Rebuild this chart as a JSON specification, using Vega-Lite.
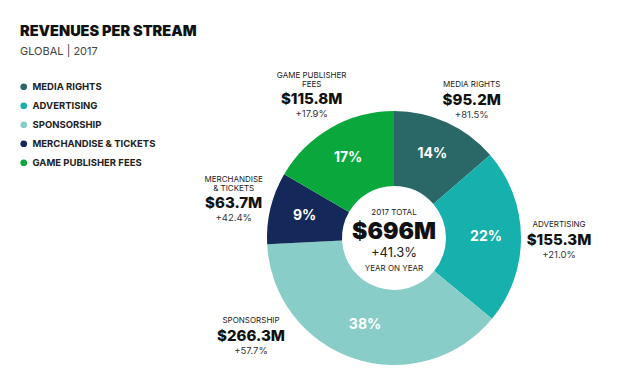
{
  "$schema": "https://vega.github.io/schema/vega-lite/v6.json",
  "width": 472,
  "height": 292,
  "autosize": {"type": "none"},
  "padding": {"left": 158, "top": 92, "right": 0, "bottom": 0},
  "background": "white",
  "title": {
    "text": "REVENUES PER STREAM",
    "subtitle": "GLOBAL | 2017",
    "anchor": "start",
    "frame": "group",
    "dx": -138,
    "dy": 50,
    "offset": 2,
    "font": "Inter",
    "fontSize": 14.5,
    "fontWeight": 900,
    "color": "#111",
    "subtitleFont": "Inter",
    "subtitleFontSize": 11,
    "subtitleColor": "#444",
    "subtitlePadding": 6
  },
  "datasets": {
    "streams": [
      {"idx": 1, "category": "MEDIA RIGHTS", "value": 95.2, "pct": "14%", "amount": "$95.2M", "growth": "+81.5%", "label": "MEDIA RIGHTS"},
      {"idx": 2, "category": "ADVERTISING", "value": 155.3, "pct": "22%", "amount": "$155.3M", "growth": "+21.0%", "label": "ADVERTISING"},
      {"idx": 3, "category": "SPONSORSHIP", "value": 266.3, "pct": "38%", "amount": "$266.3M", "growth": "+57.7%", "label": "SPONSORSHIP"},
      {"idx": 4, "category": "MERCHANDISE & TICKETS", "value": 63.7, "pct": "9%", "amount": "$63.7M", "growth": "+42.4%", "label": "MERCHANDISE\n& TICKETS"},
      {"idx": 5, "category": "GAME PUBLISHER FEES", "value": 115.8, "pct": "17%", "amount": "$115.8M", "growth": "+17.9%", "label": "GAME PUBLISHER\nFEES"}
    ],
    "center": [
      {"head": "2017 TOTAL", "total": "$696M", "growth": "+41.3%", "foot": "YEAR ON YEAR"}
    ]
  },
  "data": {"name": "streams"},
  "encoding": {
    "theta": {"field": "value", "type": "quantitative", "stack": true},
    "order": {"field": "idx", "type": "quantitative"}
  },
  "layer": [
    {
      "mark": {"type": "arc", "outerRadius": 127, "innerRadius": 52},
      "encoding": {
        "color": {
          "field": "category",
          "type": "nominal",
          "scale": {
            "domain": ["MEDIA RIGHTS", "ADVERTISING", "SPONSORSHIP", "MERCHANDISE & TICKETS", "GAME PUBLISHER FEES"],
            "range": ["#2a6868", "#16b0ad", "#88cdc7", "#14295a", "#0aa83c"]
          },
          "sort": null,
          "legend": {
            "orient": "none",
            "legendX": -139,
            "legendY": -10,
            "title": null,
            "symbolType": "circle",
            "symbolSize": 45,
            "symbolStrokeWidth": 0,
            "labelFont": "Inter",
            "labelFontSize": 9.5,
            "labelFontWeight": "bold",
            "labelColor": "#222",
            "labelOffset": 4,
            "rowPadding": 8,
            "padding": 0
          }
        }
      }
    },
    {
      "mark": {"type": "text", "radius": 92, "font": "Inter", "fontSize": 14, "fontWeight": "bold", "fill": "white"},
      "encoding": {"text": {"field": "pct", "type": "nominal"}}
    },
    {
      "mark": {"type": "text", "radius": 165, "font": "Inter", "fontSize": 8, "fill": "#222", "baseline": "bottom", "dy": -7, "lineHeight": 9, "lineBreak": "\n"},
      "encoding": {"text": {"condition": {"test": "datum.idx == 2", "field": "label"}, "value": ""}}
    },
    {
      "mark": {"type": "text", "radius": 165, "font": "Inter", "fontSize": 8, "fill": "#222", "baseline": "bottom", "dy": -15, "lineHeight": 9, "lineBreak": "\n"},
      "encoding": {"text": {"condition": {"test": "datum.idx == 4 || datum.idx == 5", "field": "label"}, "value": ""}}
    },
    {
      "mark": {"type": "text", "radius": 165, "font": "Inter", "fontSize": 15, "fontWeight": 800, "fill": "#111", "dy": 4},
      "encoding": {"text": {"condition": {"test": "datum.idx == 2 || datum.idx == 4 || datum.idx == 5", "field": "amount"}, "value": ""}}
    },
    {
      "mark": {"type": "text", "radius": 165, "font": "Inter", "fontSize": 9.5, "fill": "#333", "dy": 19},
      "encoding": {"text": {"condition": {"test": "datum.idx == 2 || datum.idx == 4 || datum.idx == 5", "field": "growth"}, "value": ""}}
    },
    {
      "mark": {"type": "text", "radius": 165, "font": "Inter", "fontSize": 8, "fill": "#222", "baseline": "bottom", "dx": 9, "dy": 1, "lineHeight": 9, "lineBreak": "\n"},
      "encoding": {"text": {"condition": {"test": "datum.idx == 1", "field": "label"}, "value": ""}}
    },
    {
      "mark": {"type": "text", "radius": 165, "font": "Inter", "fontSize": 15, "fontWeight": 800, "fill": "#111", "dx": 9, "dy": 12},
      "encoding": {"text": {"condition": {"test": "datum.idx == 1", "field": "amount"}, "value": ""}}
    },
    {
      "mark": {"type": "text", "radius": 165, "font": "Inter", "fontSize": 9.5, "fill": "#333", "dx": 9, "dy": 27},
      "encoding": {"text": {"condition": {"test": "datum.idx == 1", "field": "growth"}, "value": ""}}
    },
    {
      "mark": {"type": "text", "radius": 165, "font": "Inter", "fontSize": 8, "fill": "#222", "baseline": "bottom", "dx": -91, "dy": -70, "lineHeight": 9, "lineBreak": "\n"},
      "encoding": {"text": {"condition": {"test": "datum.idx == 3", "field": "label"}, "value": ""}}
    },
    {
      "mark": {"type": "text", "radius": 165, "font": "Inter", "fontSize": 15, "fontWeight": 800, "fill": "#111", "dx": -91, "dy": -59},
      "encoding": {"text": {"condition": {"test": "datum.idx == 3", "field": "amount"}, "value": ""}}
    },
    {
      "mark": {"type": "text", "radius": 165, "font": "Inter", "fontSize": 9.5, "fill": "#333", "dx": -91, "dy": -44},
      "encoding": {"text": {"condition": {"test": "datum.idx == 3", "field": "growth"}, "value": ""}}
    },
    {
      "data": {"name": "center"},
      "mark": {"type": "text", "font": "Inter", "fontSize": 8, "fill": "#222", "dy": -25},
      "encoding": {"theta": null, "order": null, "text": {"field": "head", "type": "nominal"}}
    },
    {
      "data": {"name": "center"},
      "mark": {"type": "text", "font": "Inter", "fontSize": 23, "fontWeight": 900, "fill": "#111", "dy": -6},
      "encoding": {"theta": null, "order": null, "text": {"field": "total", "type": "nominal"}}
    },
    {
      "data": {"name": "center"},
      "mark": {"type": "text", "font": "Inter", "fontSize": 13, "fill": "#222", "dy": 15},
      "encoding": {"theta": null, "order": null, "text": {"field": "growth", "type": "nominal"}}
    },
    {
      "data": {"name": "center"},
      "mark": {"type": "text", "font": "Inter", "fontSize": 8, "fill": "#222", "dy": 31},
      "encoding": {"theta": null, "order": null, "text": {"field": "foot", "type": "nominal"}}
    }
  ],
  "config": {
    "view": {"stroke": null}
  }
}
